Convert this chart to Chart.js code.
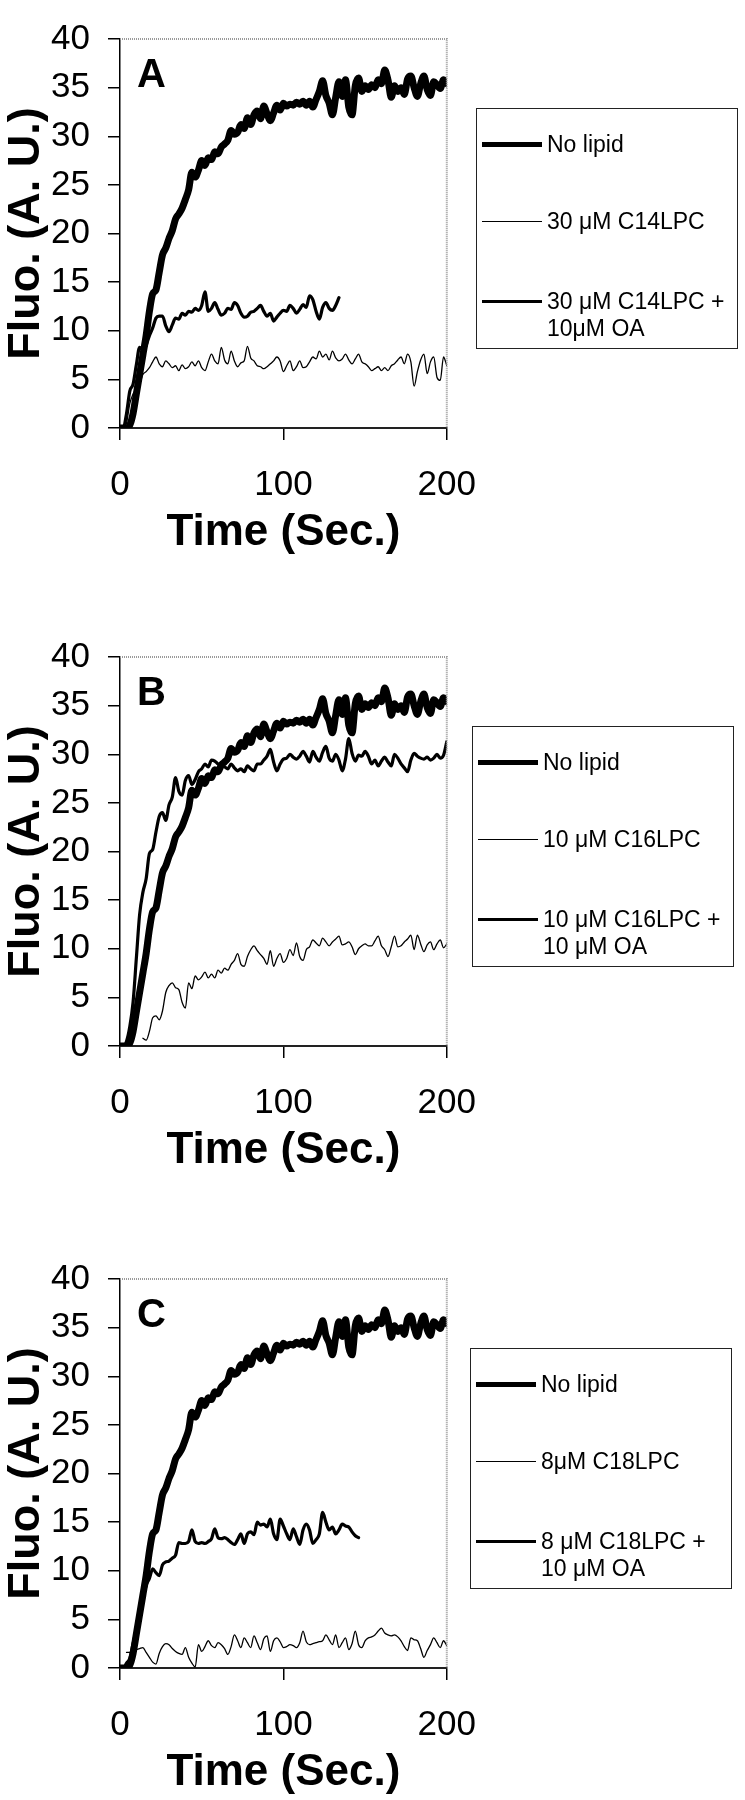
<!DOCTYPE html>
<html>
<head>
<meta charset="utf-8">
<title>Fluorescence vs time</title>
<script src="https://cdn.jsdelivr.net/npm/chart.js@4.4.0/dist/chart.umd.min.js"></script>
<style>
  html, body { margin: 0; padding: 0; background: #fff; overflow: hidden; }
  #page { position: relative; width: 745px; height: 1800px; font-family: "Liberation Sans", Arial, sans-serif; color: #000; }
  canvas { position: absolute; left: 0; }
  .letter { position: absolute; left: 137px; font-weight: bold; font-size: 40px; line-height: 1; }
  .legend { position: absolute; width: 262px; height: 241px; border: 1.5px solid #222; box-sizing: border-box; }
  .entry { position: absolute; left: 70px; font-size: 23px; line-height: 27px; white-space: pre-line; }
  .sample { position: absolute; left: 5px; width: 60px; background: #000; }
</style>
</head>
<body>
<div id="page">
  <canvas id="chartA" width="500" height="560"></canvas>
  <canvas id="chartB" width="500" height="560"></canvas>
  <canvas id="chartC" width="500" height="560"></canvas>
</div>
<script>
// Sampling grid, seconds
const times = [];
for (let t = 0; t <= 200; t += 2) times.push(t);

// Control curve, same in all three panels
const noLipid = [
  0, 0, 0, 0.3, 1.5, 3.5, 5.5, 7.5, 9.5, 12,
  13.8, 14.2, 16, 17.8, 18.5, 19.5, 20.3, 21.5, 22, 22.6,
  23.5, 24.5, 26.3, 25.8, 26.5, 27.5, 27, 27.8, 27.6, 28.4,
  28.2, 28.9, 29.2, 29.6, 30.6, 30.2, 30.4, 31.2, 30.8, 31.9,
  31.2, 32.2, 32.6, 31.8, 33.1, 32.3, 31.6, 32.4, 33.2, 32.7,
  33.4, 33.1, 33.3, 33.2, 33.5, 33.3, 33.6, 33.2, 33.6, 33.0,
  33.8, 34.6, 35.7, 34.2, 33.4, 32.2, 34.0, 35.6, 34.1, 35.8,
  33.0, 32.2, 35.2, 36.0, 34.6, 35.2, 34.8, 35.3, 35.0, 35.8,
  35.4, 36.8, 35.8, 34.0, 35.2, 34.6, 35.0, 34.3, 35.9, 36.2,
  35.0, 34.1, 35.4, 36.2, 34.8, 34.2, 35.6, 35.3, 34.9, 35.8,
  35.4
];

// Panel A
const lpcA = [
  0, 0, 0.5, 2.5, 3.5, 4.0, 4.5, 5.5, 5.8, 6.2,
  6.8, 7.3, 6.6, 6.3, 6.9, 6.6, 6.2, 6.4, 5.9, 6.5,
  6.1, 6.3, 6.8, 6.4, 6.9, 6.2, 5.9, 6.8, 7.6, 6.9,
  6.6, 8.3, 7.0, 6.6, 7.9, 6.9, 6.3, 6.7, 6.9, 8.4,
  7.2, 6.9, 6.4, 6.3, 6.1, 6.3, 6.6, 6.9, 7.3, 6.9,
  5.8, 6.4, 6.9, 5.9, 6.3, 6.9, 6.2, 6.3, 6.8, 7.3,
  7.1, 7.9, 7.3, 7.6, 7.0, 7.9, 7.2, 6.9, 7.1, 7.6,
  7.0, 6.6, 7.1, 7.6, 6.8, 6.6, 6.3, 5.9, 6.1, 6.3,
  5.9, 6.2, 5.9, 6.4, 6.6, 7.0, 7.3, 6.6, 7.6, 6.8,
  4.3, 5.8, 7.0, 7.6, 5.6, 6.8, 7.3, 5.2, 4.9, 7.3,
  6.4
];
const oaA = [
  0, 0, 1.5, 3.8, 4.5, 6.5, 8.3, 8.0, 8.5, 9.5,
  10.3, 11.3, 11.5, 11.5, 10.5, 9.9, 10.6, 11.3, 11.2, 11.8,
  11.6, 12.0, 11.9, 12.3, 12.1, 12.6, 14.0, 12.0, 12.3, 12.9,
  12.2, 11.6, 11.8, 12.3, 12.2, 12.9, 12.6, 11.8, 11.4, 11.5,
  11.9, 12.0, 12.3, 12.6, 12.0, 11.5, 11.8, 11.0, 11.4, 11.8,
  12.1, 12.0, 12.6, 12.3, 11.8, 12.2, 12.7, 12.4, 13.6, 13.2,
  12.0, 11.2, 12.4, 12.9, 12.3, 12.1, 12.6, 13.4
];

// Panel B
const lpcB = [
  null, null, null, null, null, null, null, 0.8, 0.6, 1.5,
  2.9, 3.1, 2.7, 3.6, 5.5, 6.2, 6.5, 6.0, 5.8, 4.5,
  3.9, 6.5, 5.9, 7.2, 6.8, 7.1, 7.6, 7.0, 7.4, 7.0,
  7.8, 7.5, 8.0, 7.8, 8.4, 8.8, 9.5, 8.4, 8.2, 9.2,
  9.9, 10.3, 9.8, 9.4, 9.0, 8.4, 9.8, 8.2, 9.0, 9.5,
  8.6, 9.0, 9.9, 9.3, 10.6, 9.2, 8.8, 9.9, 10.2, 10.9,
  10.6, 10.3, 11.1, 10.7, 10.3, 10.7, 11.0, 11.3, 10.4, 10.5,
  10.7, 10.2, 9.4, 10.0, 10.3, 10.5, 10.3, 10.3, 10.8, 11.3,
  10.3, 9.9, 9.2, 10.2, 11.3, 10.2, 10.3, 10.7, 11.0, 11.4,
  9.9, 11.4, 10.5, 9.7, 10.4, 10.7, 9.9, 10.5, 10.9, 10.1,
  10.5
];
const oaB = [
  0, 0, 0.5, 2.0, 4.5, 9.0, 13.5, 15.8, 17.2, 19.8,
  20.2, 22.0, 23.6, 24.0, 23.2, 24.8, 25.6, 27.6, 26.2, 25.8,
  27.3, 27.8, 26.9, 27.4, 28.2, 28.5, 29.0, 28.7, 29.4, 29.3,
  29.0, 28.8, 28.7, 28.5, 29.0, 28.6, 28.3, 28.5, 28.2, 28.8,
  28.5, 28.3, 29.0, 29.0, 29.4, 29.8, 30.5, 29.2, 28.3, 29.0,
  29.5, 29.6, 30.0, 29.7, 29.5, 29.8, 30.3, 29.8, 29.2, 30.3,
  29.7, 29.3, 30.2, 30.8, 29.6, 29.3, 30.0, 29.4, 28.3, 29.5,
  31.6, 30.1, 29.3, 29.9, 29.8, 30.3, 29.8, 29.0, 29.4, 28.8,
  29.3, 29.7, 29.2, 28.8, 30.0, 29.6, 29.0, 28.6, 28.2, 29.4,
  30.1, 29.8, 29.6, 29.5, 29.7, 29.4, 29.6, 30.0, 29.6, 29.9,
  31.3
];

// Panel C
const lpcC = [
  null, null, 1.6, 1.6, 1.8, 1.9, 2.0, 2.1, 1.6, 1.1,
  0.6, 0.4, 1.5, 2.2, 2.5, 2.4, 2.0, 1.7, 1.5, 1.4,
  2.1, 1.1, 0.5, 0.1, 2.4, 1.7, 2.2, 2.8, 2.3, 2.1,
  2.6, 2.4, 2.0, 1.4, 2.2, 3.4, 2.8, 2.1, 3.1, 2.6,
  2.1, 3.3, 2.6, 1.9, 3.0, 3.3, 1.7, 2.8, 3.1, 2.7,
  2.1, 2.2, 2.4, 2.3, 2.1, 2.6, 3.8, 2.7, 2.4, 2.5,
  2.6, 2.7, 2.8, 3.4, 2.9, 2.4, 3.4, 2.1, 2.6, 3.1,
  1.9, 2.5, 3.8, 2.4, 2.1, 2.8, 3.1, 3.2, 3.4, 3.8,
  4.1, 3.6, 3.4, 3.3, 3.4, 3.2, 2.8, 2.2, 1.8, 3.1,
  2.9, 2.8, 2.0, 1.1, 1.8, 2.4, 3.1, 2.6, 2.1, 2.8,
  2.3
];
const oaC = [
  0, 0, 0.5, 1.0, 2.5, 4.0, 5.5, 7.0, 8.5, 9.2,
  10.2, 9.8, 9.5, 10.6, 10.9, 11.0, 11.3, 11.6, 12.9, 12.8,
  12.8, 13.0, 14.2, 13.0, 12.8, 12.9, 12.8, 13.0, 13.3, 14.3,
  13.4, 13.3, 13.4, 13.2, 12.9, 12.7, 13.2, 13.8, 12.8, 13.8,
  14.0, 13.7, 15.0, 14.7, 14.8, 14.5, 15.3, 13.8, 13.2, 15.3,
  14.6, 13.8, 13.2, 14.3, 13.5, 12.7, 14.2, 14.8, 14.2, 12.8,
  13.2, 13.8, 16.0, 15.0, 14.2, 14.5, 13.8, 14.2, 14.8, 14.6,
  14.5, 14.0, 13.6, 13.4
];

const labelsA = ["No lipid", "30 μM C14LPC", "30 μM C14LPC +\n10μM OA"];
const labelsB = ["No lipid", "10 μM C16LPC", "10 μM C16LPC +\n10 μM OA"];
const labelsC = ["No lipid", "8μM C18LPC", "8 μM C18LPC +\n10 μM OA"];

const FONT = "'Liberation Sans', Arial, sans-serif";
const widths = [7, 1.3, 3.2];        // no lipid, LPC, LPC + OA
const sampleWidths = [5, 1, 3];
const rowCenters = [35, 112, 192];   // legend rows, from box top

// gray top/right frame of the plot box
const frame = {
  id: "frame",
  afterDraw(chart) {
    const { ctx, chartArea: a } = chart;
    ctx.save();
    ctx.strokeStyle = "#9a9a9a";
    ctx.lineWidth = 2;
    ctx.setLineDash([1, 1]);
    ctx.beginPath();
    ctx.moveTo(a.left, a.top);
    ctx.lineTo(a.right, a.top);
    ctx.lineTo(a.right, a.bottom);
    ctx.stroke();
    ctx.restore();
  }
};

function toPoints(values) {
  return times
    .map((t, i) => ({ x: t, y: values[i] }))
    .filter(p => p.y !== null && p.y !== undefined);
}

function makePanel(canvasId, top, letter, labels, series, legendLeft) {
  const canvas = document.getElementById(canvasId);
  canvas.style.top = top + "px";

  new Chart(canvas, {
    type: "line",
    data: {
      datasets: series.map((values, i) => ({
        label: labels[i],
        data: toPoints(values),
        borderColor: "#000",
        borderWidth: widths[i],
        borderJoinStyle: "round",
        borderCapStyle: "round",
        pointRadius: 0,
        cubicInterpolationMode: "monotone",
        fill: false
      }))
    },
    options: {
      responsive: false,
      animation: false,
      events: [],
      layout: { padding: { top: 26, right: 51, bottom: 0, left: 0 } },
      plugins: { legend: { display: false }, tooltip: { enabled: false } },
      scales: {
        x: {
          type: "linear",
          min: 0,
          max: 200,
          grid: { drawOnChartArea: false, drawTicks: true, tickLength: 12, color: "#000", lineWidth: 1.5 },
          border: { color: "#222", width: 2 },
          ticks: { stepSize: 100, padding: 24, maxRotation: 0, color: "#000", font: { family: FONT, size: 35 } },
          title: {
            display: true,
            text: "Time (Sec.)",
            color: "#000",
            font: { family: FONT, size: 44, weight: "bold" },
            padding: { top: 0, bottom: 1 }
          },
          afterFit(scale) { scale.height = 132; }
        },
        y: {
          min: 0,
          max: 40,
          grid: { drawOnChartArea: false, drawTicks: true, tickLength: 12, color: "#000", lineWidth: 1.5 },
          border: { color: "#000", width: 1.5 },
          ticks: { stepSize: 5, padding: 18, color: "#000", font: { family: FONT, size: 35 } },
          title: {
            display: true,
            text: "Fluo. (A. U.)",
            color: "#000",
            font: { family: FONT, size: 45, weight: "bold" },
            padding: { top: 0, bottom: 0 }
          },
          afterFit(scale) { scale.width = 120; }
        }
      }
    },
    plugins: [frame]
  });

  const page = document.getElementById("page");

  // panel letter
  const tag = document.createElement("div");
  tag.className = "letter";
  tag.style.top = (top + 53) + "px";
  tag.textContent = letter;
  page.appendChild(tag);

  // legend box
  const box = document.createElement("div");
  box.className = "legend";
  box.style.left = legendLeft + "px";
  box.style.top = (top + 108) + "px";
  labels.forEach((label, i) => {
    const line = document.createElement("div");
    line.className = "sample";
    line.style.height = sampleWidths[i] + "px";
    line.style.top = (rowCenters[i] - sampleWidths[i] / 2) + "px";
    box.appendChild(line);

    const text = document.createElement("div");
    text.className = "entry";
    text.style.top = (rowCenters[i] - 13.5) + "px";
    text.textContent = label;
    box.appendChild(text);
  });
  page.appendChild(box);
}

makePanel("chartA", 0, "A", labelsA, [noLipid, lpcA, oaA], 476);
makePanel("chartB", 618, "B", labelsB, [noLipid, lpcB, oaB], 472);
makePanel("chartC", 1240, "C", labelsC, [noLipid, lpcC, oaC], 470);
</script>
</body>
</html>
